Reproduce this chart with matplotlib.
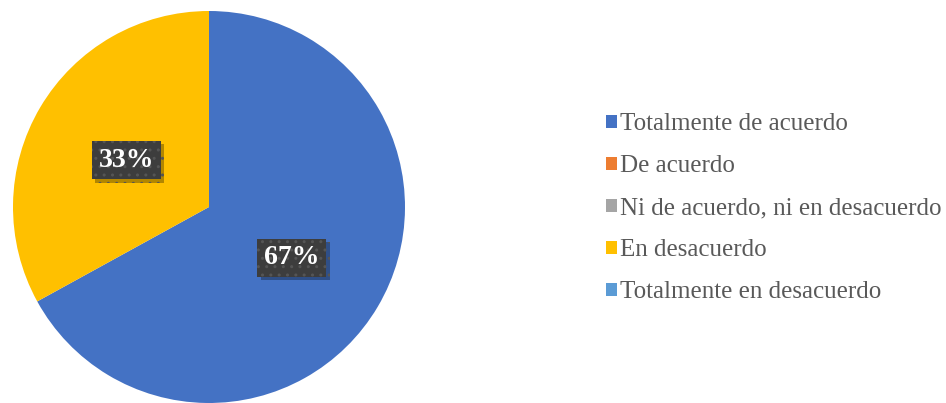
import matplotlib
matplotlib.use("Agg")
import matplotlib.pyplot as plt
from matplotlib.patches import Patch
import matplotlib.patheffects as pe
import numpy as np

categories = ["Totalmente de acuerdo", "De acuerdo", "Ni de acuerdo, ni en desacuerdo",
              "En desacuerdo", "Totalmente en desacuerdo"]
values = [67, 0, 0, 33, 0]
labels_pct = ["67%", "", "", "33%", ""]
colors = ["#4472C4", "#ED7D31", "#A5A5A5", "#FFC000", "#5B9BD5"]

W, H = 946, 403
fig = plt.figure(figsize=(W / 100, H / 100), dpi=100)
cx, cy, r = 209, 207, 196
ax = fig.add_axes([(cx - r) / W, (H - cy - r) / H, 2 * r / W, 2 * r / H])

wedges, _ = ax.pie(values, colors=colors, startangle=90, counterclock=False,
                   radius=1, center=(0, 0), frame=True,
                   wedgeprops=dict(linewidth=0))
ax.set_xlim(-1, 1)
ax.set_ylim(-1, 1)
ax.axis("off")

total = sum(values)
ang = 90.0
for v, lab in zip(values, labels_pct):
    span = 360.0 * v / total
    mid = np.deg2rad(ang - span / 2)
    ang -= span
    if not lab:
        continue
    x, y = 0.49 * np.cos(mid), 0.49 * np.sin(mid) - 0.01
    t = ax.text(x, y, lab, ha="center", va="center", fontsize=20, fontweight="bold",
                family="Liberation Serif", color="white",
                bbox=dict(boxstyle="square,pad=0.24", facecolor="#3d3d3d",
                          edgecolor="#555555", hatch="..", linewidth=0))
    t.get_bbox_patch().set_path_effects([
        pe.SimplePatchShadow(offset=(2.5, -2.5), shadow_rgbFace="black", alpha=0.3),
        pe.Normal()])

handles = [Patch(facecolor=c, edgecolor="none") for c in colors]
fig.legend(handles, categories, loc="center left", bbox_to_anchor=(606 / W, 1 - 208 / H),
           frameon=False, prop=dict(family="Liberation Serif", size=18),
           labelcolor="#595959", handlelength=0.42, handleheight=0.42,
           handletextpad=0.15, labelspacing=0.8, borderaxespad=0, borderpad=0)

fig.savefig("out.png", dpi=100)
